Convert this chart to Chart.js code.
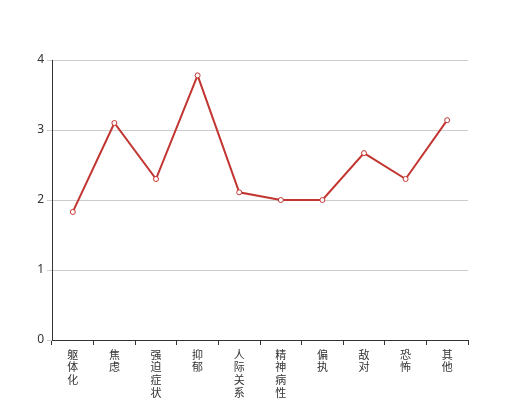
<!DOCTYPE html>
<html>
<head>
<meta charset="utf-8">
<script src="https://cdn.jsdelivr.net/npm/chart.js@4/dist/chart.umd.min.js"></script>
<style>
  html, body { margin: 0; padding: 0; background: #fff; }
  #wrap { width: 520px; height: 400px; }
</style>
</head>
<body>
<div id="wrap"><canvas id="chart" width="520" height="400"></canvas></div>
<script>
// Chart data
const categories = ['躯体化', '焦虑', '强迫症状', '抑郁', '人际关系敏感', '精神病性', '偏执', '敌对', '恐怖', '其他'];
const scores = [1.83, 3.10, 2.30, 3.78, 2.11, 2.00, 2.00, 2.67, 2.30, 3.14];
const yTicks = [0, 1, 2, 3, 4];

const labelFont = { family: '"Noto Sans CJK SC", "Noto Sans", sans-serif', size: 11, lineHeight: 1.16 };

new Chart(document.getElementById('chart').getContext('2d'), {
    type: 'line',
    data: {
        // one character per line, like vertical text
        labels: categories.map(c => c.split('')),
        datasets: [{
            data: scores,
            borderColor: '#c23531',
            borderWidth: 2,
            tension: 0,
            pointRadius: 2.5,
            pointBorderWidth: 1,
            pointBackgroundColor: '#fff',
            pointBorderColor: '#c23531',
            fill: false
        }]
    },
    options: {
        responsive: false,
        animation: false,
        layout: { padding: { top: 60, right: 52, left: 0, bottom: 0 } },
        plugins: { legend: { display: false }, tooltip: { enabled: false } },
        scales: {
            x: {
                offset: true,
                grid: { offset: true, drawOnChartArea: false, drawTicks: true, tickLength: 5, color: '#333' },
                border: { color: '#333', width: 1 },
                ticks: { color: '#333', font: labelFont, maxRotation: 0, autoSkip: false, padding: 3 },
                afterFit: s => { s.height = 60; }
            },
            y: {
                min: 0,
                max: 4,
                afterBuildTicks: s => { s.ticks = yTicks.map(v => ({ value: v })); },
                grid: { color: '#ccc', drawTicks: true, tickLength: 5 },
                border: { color: '#333', width: 1 },
                ticks: { color: '#333', font: { family: '"Noto Sans", sans-serif', size: 12 }, padding: 3 },
                afterFit: s => { s.width = 52; }
            }
        }
    }
});
</script>
</body>
</html>
